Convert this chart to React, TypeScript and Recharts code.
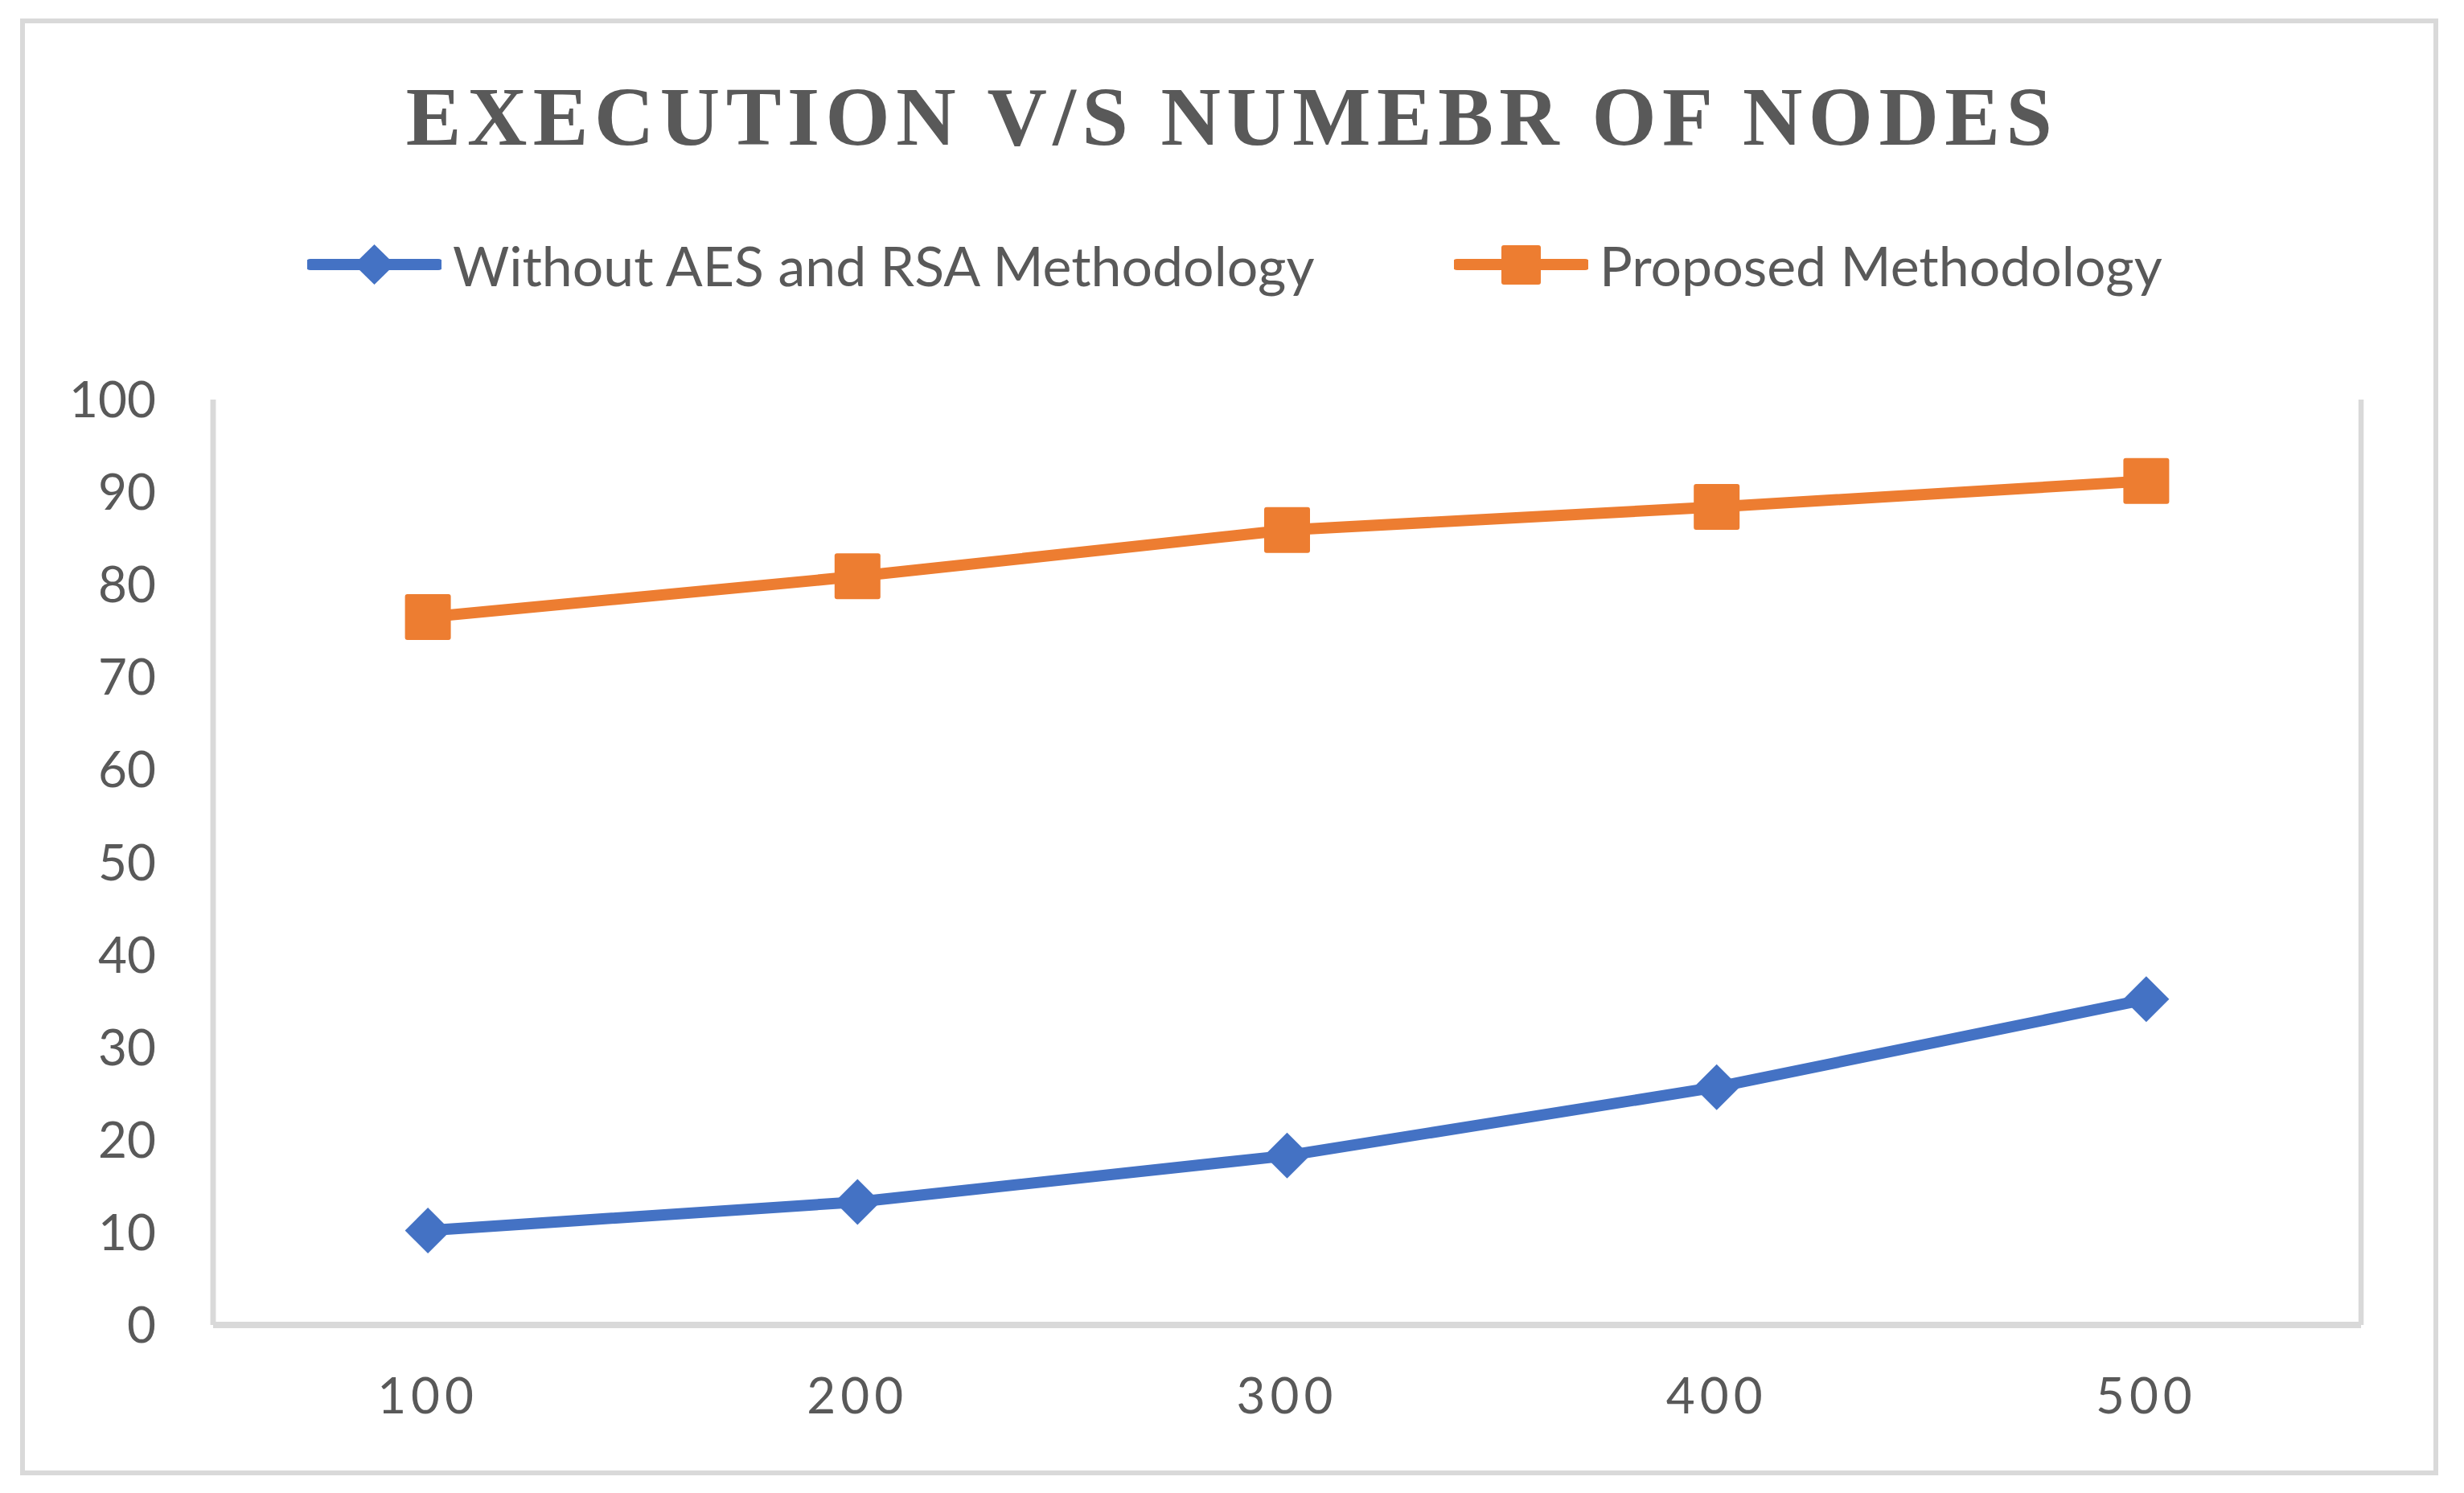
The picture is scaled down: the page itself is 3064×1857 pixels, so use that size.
import React from "react";
import { LineChart, Line, XAxis, YAxis, CartesianGrid, Legend } from "recharts";

// number of nodes on the x axis
const nodes = [100, 200, 300, 400, 500];
// execution values
const withoutAesRsa = [10.2, 13.3, 18.3, 25.7, 35.2];
const proposed = [76.5, 80.9, 85.9, 88.4, 91.2];
const yTicks = [0, 10, 20, 30, 40, 50, 60, 70, 80, 90, 100];
const seriesNames = ["Without AES and RSA Methodology", "Proposed Methodology"];

const BLUE = "#4472C4";
const ORANGE = "#ED7D31";
const GRID = "#D9D9D9";
const TEXT = "#595959";
const SANS = "Lato, 'Open Sans', sans-serif";

const data = nodes.map((n, i) => ({
  nodes: n,
  without: withoutAesRsa[i],
  proposed: proposed[i],
}));

// half a category step on each side, so lines between categories
const step = nodes[1] - nodes[0];
const xDomain = [nodes[0] - step / 2, nodes[nodes.length - 1] + step / 2];
const gridTicks = nodes.map((n) => n + step / 2);

function DiamondDot(props: any) {
  const { cx, cy } = props;
  if (cx == null || cy == null) return null;
  const r = 28.5;
  return (
    <polygon
      points={`${cx},${cy - r} ${cx + r},${cy} ${cx},${cy + r} ${cx - r},${cy}`}
      fill={BLUE}
    />
  );
}

function SquareDot(props: any) {
  const { cx, cy } = props;
  if (cx == null || cy == null) return null;
  const s = 57;
  return <rect x={cx - s / 2} y={cy - s / 2} width={s} height={s} rx={3} fill={ORANGE} />;
}

function XTick(props: any) {
  const { x, y, payload } = props;
  return (
    <text
      x={x}
      y={y}
      dy="0.71em"
      textAnchor="middle"
      fill={TEXT}
      fontSize={62}
      fontFamily={SANS}
      letterSpacing={6}
    >
      {payload.value}
    </text>
  );
}

function LegendItem({ left, color, name, shape }: any) {
  return (
    <div
      style={{
        position: "absolute",
        left,
        top: 0,
        height: 80,
        display: "flex",
        alignItems: "center",
      }}
    >
      <svg width={167} height={80}>
        <line x1={4} y1={40} x2={163} y2={40} stroke={color} strokeWidth={14} strokeLinecap="round" />
        {shape === "diamond" ? (
          <polygon points="83.5,15 109,40 83.5,65 58,40" fill={color} />
        ) : (
          <rect x={59} y={16} width={49} height={49} rx={3} fill={color} />
        )}
      </svg>
      <span style={{ marginLeft: 14, whiteSpace: "nowrap" }}>{name}</span>
    </div>
  );
}

function LegendContent() {
  return (
    <div
      style={{
        position: "relative",
        width: 3064,
        height: 80,
        fontFamily: SANS,
        fontSize: 68,
        color: TEXT,
      }}
    >
      <LegendItem left={382} color={BLUE} name={seriesNames[0]} shape="diamond" />
      <LegendItem left={1808} color={ORANGE} name={seriesNames[1]} shape="square" />
    </div>
  );
}

export default function App() {
  return (
    <div
      style={{
        position: "absolute",
        left: 0,
        top: 0,
        width: 3064,
        height: 1857,
        background: "#fff",
      }}
    >
      <div
        style={{
          position: "absolute",
          left: 25,
          top: 23,
          width: 3007,
          height: 1812,
          border: `6px solid ${GRID}`,
          boxSizing: "border-box",
        }}
      />
      <div
        style={{
          position: "absolute",
          left: 0,
          top: 94,
          width: 3064,
          textAlign: "center",
          fontFamily: "'Liberation Serif', 'Times New Roman', serif",
          fontWeight: "bold",
          fontSize: 103,
          lineHeight: 1,
          letterSpacing: 7.5,
          color: TEXT,
        }}
      >
        EXECUTION V/S NUMEBR OF NODES
      </div>
      <div style={{ position: "absolute", left: 0, top: 0 }}>
        <LineChart
          width={3064}
          height={1857}
          data={data}
          margin={{ top: 417, right: 128, bottom: 89, left: 0 }}
        >
          <CartesianGrid xAxisId="grid" horizontal={false} stroke={GRID} strokeWidth={6.5} />
          <XAxis
            xAxisId="grid"
            type="number"
            domain={xDomain}
            ticks={gridTicks}
            hide
          />
          <XAxis
            dataKey="nodes"
            type="number"
            domain={xDomain}
            ticks={nodes}
            axisLine={{ stroke: GRID, strokeWidth: 8 }}
            tickLine={false}
            tickSize={0}
            tickMargin={66}
            height={120}
            tick={<XTick />}
          />
          <YAxis
            type="number"
            domain={[0, 100]}
            ticks={yTicks}
            width={265}
            axisLine={{ stroke: GRID, strokeWidth: 6.5 }}
            tickLine={false}
            tickSize={0}
            tickMargin={71}
            tick={{ fill: TEXT, fontSize: 62, fontFamily: SANS }}
          />
          <Legend
            verticalAlign="top"
            content={<LegendContent />}
            wrapperStyle={{ top: 289, left: 0, width: 3064, height: 80 }}
          />
          <Line
            type="linear"
            dataKey="without"
            name={seriesNames[0]}
            stroke={BLUE}
            strokeWidth={14}
            strokeLinejoin="round"
            dot={<DiamondDot />}
            activeDot={false}
            isAnimationActive={false}
          />
          <Line
            type="linear"
            dataKey="proposed"
            name={seriesNames[1]}
            stroke={ORANGE}
            strokeWidth={14}
            strokeLinejoin="round"
            dot={<SquareDot />}
            activeDot={false}
            isAnimationActive={false}
          />
        </LineChart>
      </div>
    </div>
  );
}
